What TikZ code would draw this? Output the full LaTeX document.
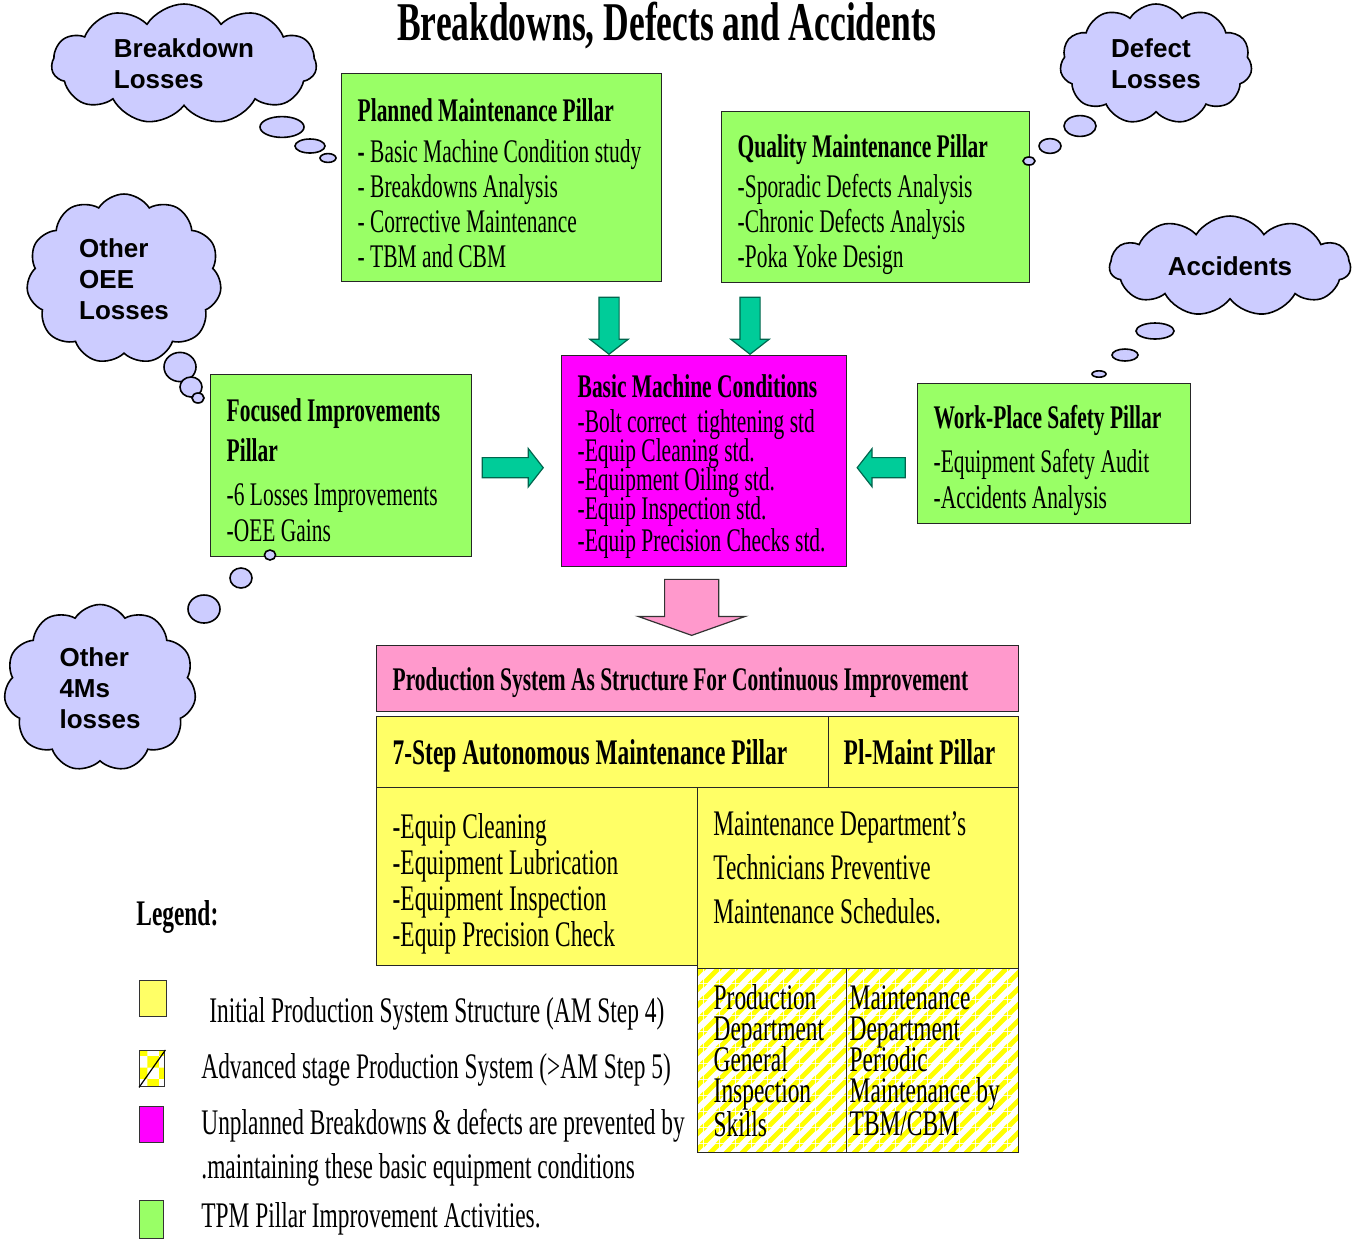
\documentclass[tikz,border=0pt]{standalone}
\usepackage{fontspec}
\setmainfont{Liberation Serif}[FakeStretch=0.65]
\setsansfont{Liberation Sans}
\usetikzlibrary{shapes.symbols,shapes.arrows,patterns,patterns.meta}

\definecolor{pillargreen}{HTML}{99FF66}
\definecolor{bmcmagenta}{HTML}{FF00FF}
\definecolor{cloudblue}{HTML}{CCCCFF}
\definecolor{arrowteal}{HTML}{00CC99}
\definecolor{arrowedge}{HTML}{00664D}
\definecolor{structpink}{HTML}{FF99CC}
\definecolor{amyellow}{HTML}{FFFF66}

% thick diagonal stripes for the advanced stage boxes
\tikzdeclarepattern{
  name=amstripes,
  type=uncolored,
  bounding box={(0pt,0pt) and (8pt,8pt)},
  tile size={(8pt,8pt)},
  code={
    \fill (0pt,0pt) -- (1.8pt,0pt) -- (8pt,6.2pt) -- (8pt,8pt) -- (6.2pt,8pt) -- (0pt,1.8pt) -- cycle;
    \fill (0pt,6.2pt) -- (0pt,8pt) -- (1.8pt,8pt) -- cycle;
    \fill (6.2pt,0pt) -- (8pt,0pt) -- (8pt,1.8pt) -- cycle;
  }
}

% strut that pushes a box's text down, and lines set closer than their height
\newcommand{\topgap}[1]{\rule{0pt}{#1}}
\newcommand{\tightlines}{\lineskiplimit=-\maxdimen\relax}

\begin{document}
\begin{tikzpicture}[x=0.5pt,y=-0.5pt]
  \tikzset{
    box/.style={draw=black!85, line width=0.7pt, anchor=north west, align=flush left, inner xsep=8pt, inner ysep=0pt},
    pillar/.style={box, fill=pillargreen, font=\fontsize{16.5}{17.5}\selectfont},
    ambox/.style={box, fill=amyellow},
    advbox/.style={box, fill=white, pattern=amstripes, pattern color=yellow, font=\fontsize{18}{15.5}\selectfont},
    cloudy/.style={cloud, cloud puffs=11, cloud puff arc=115, cloud ignores aspect, draw=black, line width=0.8pt, fill=cloudblue, align=left, inner sep=0pt, font=\sffamily\bfseries\fontsize{13}{15.5}\selectfont},
    bubble/.style={draw=black, line width=0.8pt, fill=cloudblue},
    tealarrow/.style={single arrow, draw=arrowedge, fill=arrowteal, line width=0.6pt, inner xsep=0pt, inner ysep=4.75pt, single arrow head extend=4.5pt, single arrow tip angle=104, minimum height=28.5pt, anchor=tip},
    pinkarrow/.style={single arrow, draw=black!80, fill=structpink, line width=0.6pt, inner xsep=0pt, inner ysep=13.25pt, single arrow head extend=13.25pt, single arrow tip angle=141, minimum height=28pt, anchor=tip},
    key/.style={draw=black!80, line width=0.7pt, anchor=north west, inner sep=0pt, minimum width=12.5pt, minimum height=18pt},
    legendtext/.style={anchor=west, inner sep=0pt, align=left, font=\fontsize{18}{22}\selectfont}
  }
  \useasboundingbox (0,0) rectangle (1364,1238);

  \node [anchor=base, inner sep=0pt, font=\bfseries\fontsize{27.3}{30}\selectfont] (title) at (667,40) {Breakdowns, Defects and Accidents};

  % loss clouds
  \node [cloudy, minimum width=132.5pt, minimum height=60pt] (bdl) at (184,64) {Breakdown\\Losses};
  \node [cloudy, minimum width=96pt, minimum height=60pt] (dfl) at (1156,64) {Defect\\Losses};
  \node [cloudy, minimum width=120.5pt, minimum height=50pt] (acc) at (1230,266) {Accidents};
  \node [cloudy, minimum width=97.5pt, minimum height=85pt] (oee) at (124,279) {Other\\OEE\\Losses};
  \node [cloudy, minimum width=96pt, minimum height=83.5pt] (fms) at (100,688) {Other\\4Ms\\losses};

  % pillars
  \node [pillar, minimum width=160pt, minimum height=104pt, text width=144pt] (pmp) at (341,73) {\topgap{16.5pt}\textbf{Planned Maintenance Pillar}\\[3pt]
    \textbf{-} Basic Machine Condition study\\- Breakdowns Analysis\\- Corrective Maintenance\\- TBM and CBM};

  \node [pillar, minimum width=154pt, minimum height=85.5pt, text width=138pt] (qmp) at (721,111) {\topgap{18.5pt}\textbf{Quality Maintenance Pillar}\\[2.5pt]
    -Sporadic Defects Analysis\\-Chronic Defects Analysis\\-Poka Yoke Design};

  \node [pillar, minimum width=130.5pt, minimum height=91pt, text width=114.5pt, font=\fontsize{16.5}{18}\selectfont] (fip) at (210,374) {\topgap{15.5pt}\textbf{Focused Improvements}\\[2pt]
    \textbf{Pillar}\\[4pt]-6 Losses Improvements\\-OEE Gains};

  \node [pillar, fill=bmcmagenta, minimum width=142.5pt, minimum height=105.5pt, text width=126.5pt, font=\fontsize{16.5}{14.5}\selectfont] (bmc) at (561,355) {\tightlines\topgap{17pt}\textbf{Basic Machine Conditions}\\[3pt]
    -Bolt correct\ \ tightening std\\-Equip Cleaning std.\\-Equipment Oiling std.\\-Equip Inspection std.\\-Equip Precision Checks std.};

  \node [pillar, minimum width=136.5pt, minimum height=70pt, text width=120.5pt, font=\fontsize{16.5}{18}\selectfont] (wsp) at (917,383) {\topgap{18.5pt}\textbf{Work-Place Safety Pillar}\\[4pt]
    -Equipment Safety Audit\\-Accidents Analysis};

  \node [tealarrow, rotate=-90] (pa) at ([xshift=24pt]bmc.north west) {};
  \node [tealarrow, rotate=-90] (qa) at ([xshift=94.5pt]bmc.north west) {};
  \node [tealarrow, minimum height=30.5pt] (fa) at ([xshift=-8.5pt,yshift=-3.25pt]bmc.west) {};
  \node [tealarrow, rotate=180, minimum height=24pt] (wa) at ([xshift=4.5pt,yshift=-3.25pt]bmc.east) {};

  % thought bubbles
  \draw [bubble] (282,127) ellipse [x radius=11pt, y radius=5.2pt];
  \draw [bubble] (310,146) ellipse [x radius=7.5pt, y radius=3.5pt];
  \draw [bubble] (328,158) ellipse [x radius=4pt, y radius=2.2pt];
  \draw [bubble] (1080,126) ellipse [x radius=8pt, y radius=5.2pt];
  \draw [bubble] (1050,146) ellipse [x radius=5.5pt, y radius=3.7pt];
  \draw [bubble] (1029,161) ellipse [x radius=3pt, y radius=2pt];
  \draw [bubble] (1155,331) ellipse [x radius=9.5pt, y radius=4pt];
  \draw [bubble] (1125,355) ellipse [x radius=6.5pt, y radius=3pt];
  \draw [bubble] (1099,374) ellipse [x radius=3.5pt, y radius=1.6pt];
  \draw [bubble] (180,367) ellipse [x radius=8pt, y radius=7.3pt];
  \draw [bubble] (191,387) ellipse [x radius=5.5pt, y radius=5pt];
  \draw [bubble] (198,398) ellipse [x radius=3pt, y radius=2.5pt];
  \draw [bubble] (270,555) ellipse [x radius=2.8pt, y radius=2.5pt];
  \draw [bubble] (241,578) ellipse [x radius=5.5pt, y radius=5pt];
  \draw [bubble] (204,609) ellipse [x radius=8pt, y radius=7pt];

  % production system structure
  \node [box, fill=structpink, minimum width=321pt, minimum height=33pt, text width=305pt, font=\bfseries\fontsize{16.5}{18}\selectfont] (psa) at (376,645) {\topgap{15.3pt}Production System As Structure For Continuous Improvement};
  \node [pinkarrow, rotate=-90] (sa) at ([xshift=-3pt,yshift=4.5pt]psa.north) {};

  \node [ambox, minimum width=226pt, minimum height=35.5pt, text width=210pt, font=\bfseries\fontsize{18}{20}\selectfont] (amp) at (376,716) {\topgap{16.3pt}7-Step Autonomous Maintenance Pillar};
  \node [ambox, minimum width=95pt, minimum height=35.5pt, inner xsep=7.5pt, text width=80pt, font=\bfseries\fontsize{18}{20}\selectfont] (plm) at (828,716) {Pl-Maint Pillar};

  \node [ambox, minimum width=160.5pt, minimum height=89pt, text width=144.5pt, font=\fontsize{18}{18}\selectfont] (aml) at (376,787) {\topgap{20pt}-Equip Cleaning\\-Equipment Lubrication\\-Equipment Inspection\\-Equip Precision Check};
  \node [ambox, minimum width=160.5pt, minimum height=90.5pt] (mds) at (697,787) {};
  \node [anchor=north west, inner sep=0pt, align=flush left, font=\fontsize{18}{22}\selectfont] (mdstext) at ([xshift=8pt,yshift=-12pt]mds.north west) {Maintenance Department's\\Technicians Preventive\\Maintenance Schedules.};

  \node [advbox, minimum width=74.5pt, minimum height=92pt, text width=58.5pt] (pdg) at (697,968) {\tightlines Production\\Department\\General\\Inspection\\Skills};
  \node [advbox, minimum width=86pt, minimum height=92pt, inner xsep=1.5pt, text width=83pt] (mdp) at (846,968) {\tightlines Maintenance\\Department\\Periodic\\Maintenance by\\TBM/CBM};

  % legend
  \node [legendtext, font=\bfseries\fontsize{18}{22}\selectfont] (lg) at (136,917) {Legend:};
  \node [key, fill=amyellow, minimum width=13.5pt] (k1) at (139,980) {};
  \node [key, fill=white, pattern=checkerboard, pattern color=yellow] (k2) at (139,1050) {};
  \draw [line width=0.6pt] (k2.south west) -- (k2.north east);
  \node [key, fill=bmcmagenta, minimum width=12pt] (k3) at (139,1106) {};
  \node [key, fill=pillargreen, minimum width=12pt, minimum height=19pt] (k4) at (139,1200) {};

  \node [legendtext] (l1) at (209,1014) {Initial Production System Structure (AM Step 4)};
  \node [legendtext] (l2) at (201,1070) {Advanced stage Production System (>AM Step 5)};
  \node [legendtext] (l3) at (201,1148) {Unplanned Breakdowns \& defects are prevented by\\.maintaining these basic equipment conditions};
  \node [legendtext] (l4) at (201,1219) {TPM Pillar Improvement Activities.};
\end{tikzpicture}
\end{document}
